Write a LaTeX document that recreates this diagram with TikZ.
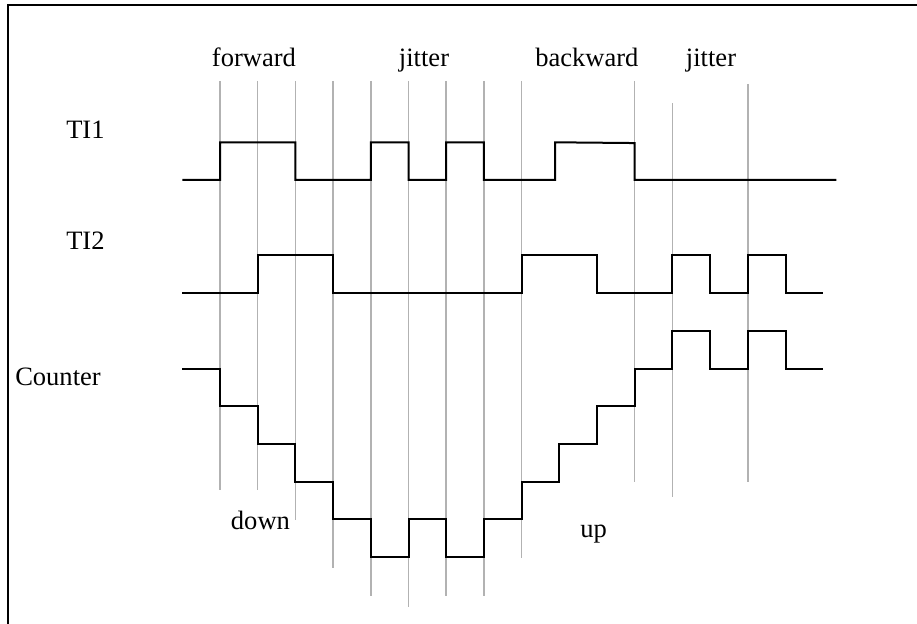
\documentclass[tikz,border=0pt]{standalone}
\usepackage{fontspec}
\setmainfont{Liberation Serif}
\begin{document}
\begin{tikzpicture}[x=0.75pt,y=-0.75pt,
  lbl/.style={anchor=base west,inner sep=0pt,font=\fontsize{19.9}{24}\selectfont},
  gridln/.style={draw=black!30,line width=1.1pt},
  sig/.style={draw=black,line width=1.5pt,line join=miter},
  frameln/.style={draw=black,line width=1.5pt}]
\useasboundingbox (0,0) rectangle (917,624);
% frame (top and left edges)
\coordinate (fa) at (7.5,624);
\coordinate (fb) at (7.5,5.5);
\coordinate (fc) at (917,5.5);
\draw[frameln] (fa) -- (fb) -- (fc);
% labels
\node[lbl] (lfwd) at (211.7,66.7) {forward};
\node[lbl] (ljit1) at (398.7,66.7) {jitter};
\node[lbl] (lbwd) at (535,66.7) {backward};
\node[lbl] (ljit2) at (685.7,66.7) {jitter};
\node[lbl] (lti1) at (66,139) {TI1};
\node[lbl] (lti2) at (66,249.3) {TI2};
\node[lbl] (lcnt) at (15,385.7) {Counter};
\node[lbl] (ldown) at (230.7,529.3) {down};
\node[lbl] (lup) at (580,537) {up};
\begin{scope}[shift={(165pt,-135pt)},x=28.275pt,y=28.275pt]
% grid lines
\foreach \i/\t/\b in {0/2.63/-8.22,1/2.63/-8.22,2/2.63/-9.02,3/2.63/-10.3,
  4/2.63/-11.03,5/2.63/-11.32,6/2.63/-11.03,7/2.63/-11.03,8/2.63/-10.03,
  11/2.63/-8.0,12/2.04/-8.4,14/2.55/-8.0}
  \draw[gridln] (\i,\t) -- (\i,\b);
% TI1
\draw[sig] (-1,0)--(0,0)--(0,1)--(2,1)--(2,0)--(4,0)--(4,1)--(5,1)--(5,0)--(6,0)--(6,1)--(7,1)--(7,0)--(8.89,0)--(8.89,1)--(11,0.98)--(11,0)--(16.35,0);
% TI2
\draw[sig] (-1,-3)--(1,-3)--(1,-2)--(3,-2)--(3,-3)--(8,-3)--(8,-2)--(10,-2)--(10,-3)--(12,-3)--(12,-2)--(13,-2)--(13,-3)--(14,-3)--(14,-2)--(15,-2)--(15,-3)--(16,-3);
% Counter
\draw[sig] (-1,-5)--(0,-5)--(0,-6)--(1,-6)--(1,-7)--(2,-7)--(2,-8)--(3,-8)--(3,-9)--(4,-9)--(4,-10)--(5,-10)--(5,-9)--(6,-9)--(6,-10)--(7,-10)--(7,-9)--(8,-9)--(8,-8)--(9,-8)--(9,-7)--(10,-7)--(10,-6)--(11,-6)--(11,-5)--(12,-5)--(12,-4)--(13,-4)--(13,-5)--(14,-5)--(14,-4)--(15,-4)--(15,-5)--(16,-5);
\end{scope}
\end{tikzpicture}
\end{document}
